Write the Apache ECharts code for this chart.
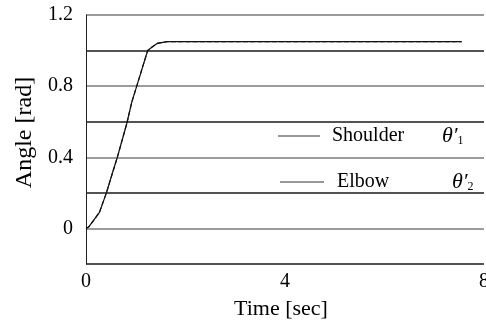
<!DOCTYPE html>
<html><head><meta charset="utf-8">
<script src="https://cdn.jsdelivr.net/npm/echarts@6/dist/echarts.min.js"></script>
<style>html,body{margin:0;padding:0;background:#fff}#c{width:486px;height:325px}</style>
</head><body><div id="c"></div>
<script>
var timeSec = [0, 0.06, 0.27, 0.41, 0.53, 0.63, 0.82, 0.92, 1.02, 1.14, 1.24, 1.33, 1.43, 1.63, 3.0, 5.0, 7.55];
var shoulder = [0, 0.01, 0.09, 0.20, 0.31, 0.40, 0.59, 0.71, 0.80, 0.91, 1.00, 1.02, 1.04, 1.05, 1.05, 1.05, 1.05];
var elbow = [0, 0.01, 0.09, 0.20, 0.31, 0.40, 0.59, 0.71, 0.80, 0.91, 1.00, 1.02, 1.04, 1.05, 1.05, 1.05, 1.05];
var xTicks = [0, 4, 8];
var yTickLabels = ['0', '0.4', '0.8', '1.2'];
var seriesNames = ['Shoulder', 'Elbow'];

function pairs(xs, ys){ return xs.map(function(x,i){ return [x, ys[i]]; }); }
var serif = 'Liberation Serif';
var chart = echarts.init(document.getElementById('c'), null, {renderer:'canvas'});
function legendRich(w, pad){
  return {
    n:{fontFamily:serif,fontSize:20,color:'#000',width:w,padding:[0,0,0,pad]},
    t:{fontFamily:serif,fontSize:22,fontStyle:'italic',color:'#000'},
    s:{fontFamily:serif,fontSize:12,color:'#000',verticalAlign:'bottom',padding:[10,0,0,0]}
  };
}
chart.setOption({
  animation:false,
  backgroundColor:'#fff',
  grid:{left:86,right:2,top:15,bottom:61,outerBoundsMode:'none',containLabel:false},
  legend:[
    {data:[seriesNames[0]],left:273,top:120,icon:'rect',itemWidth:42,itemHeight:1.5,
     itemStyle:{color:'#777'},
     formatter:function(n){return '{n|'+n+'}{t|θ′}{s|1}';},
     textStyle:{rich:legendRich(110,7)}},
    {data:[seriesNames[1]],left:275,top:166,icon:'rect',itemWidth:44,itemHeight:1.5,
     itemStyle:{color:'#777'},
     formatter:function(n){return '{n|'+n+'}{t|θ′}{s|2}';},
     textStyle:{rich:legendRich(115,8)}}
  ],
  xAxis:{type:'value',min:xTicks[0],max:xTicks[xTicks.length-1],interval:4,
    name:'Time [sec]',nameLocation:'middle',nameGap:34,
    nameTextStyle:{fontFamily:serif,fontSize:22,color:'#000',padding:[0,8,0,0]},
    axisLine:{show:false},axisTick:{show:false},splitLine:{show:false},
    axisLabel:{fontFamily:serif,fontSize:20,color:'#000',margin:8}},
  yAxis:{type:'value',min:-0.2,max:1.2,interval:0.2,
    name:'Angle [rad]',nameLocation:'middle',nameGap:49,
    nameTextStyle:{fontFamily:serif,fontSize:24,color:'#000',padding:[0,0,0,14]},
    axisLine:{show:true,lineStyle:{color:'#222',width:1}},
    axisTick:{show:false},
    splitLine:{show:true,lineStyle:{color:['#1a1a1a','#7a7a7a'],width:1.5}},
    axisLabel:{fontFamily:serif,fontSize:20,color:'#000',margin:13,
      formatter:function(v){
        var k=Math.round(v*10);
        if(k<0||k%4!==0) return '';
        return yTickLabels[k/4];
      }}},
  series:[
    {name:seriesNames[0],type:'line',data:pairs(timeSec,shoulder),showSymbol:false,symbol:'none',
     lineStyle:{color:'#111',width:1.2},itemStyle:{color:'#777'}},
    {name:seriesNames[1],type:'line',data:pairs(timeSec,elbow),showSymbol:false,symbol:'none',
     lineStyle:{color:'#111',width:1.2,type:'dashed'},itemStyle:{color:'#777'}}
  ]
});
</script></body></html>
